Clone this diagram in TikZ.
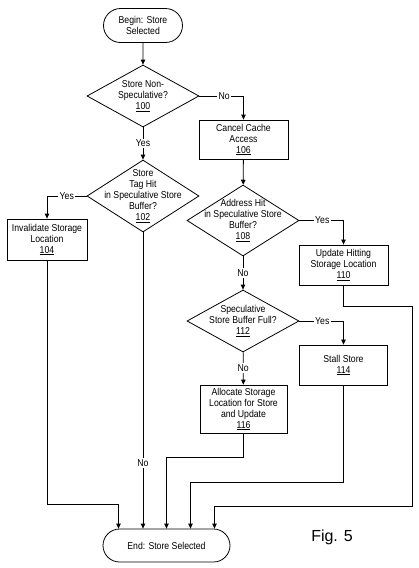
\documentclass[tikz,border=0pt]{standalone}
\usepackage{fontspec}
\setmainfont[FakeStretch=0.87]{Liberation Sans}
\newfontfamily\figfont{Liberation Sans}
\usetikzlibrary{arrows.meta,shapes.geometric,shapes.misc}

\begin{document}
\begin{tikzpicture}[x=1pt,y=-1pt,line width=0.8pt,>={Triangle[length=5pt,width=4.5pt]},
    every node/.style={font=\fontsize{10}{11}\selectfont,align=center,inner sep=1pt},
    term/.style={rounded rectangle,draw,minimum height=34pt},
    decision/.style={diamond,draw,inner sep=-24pt,minimum width=112pt},
    stepbox/.style={rectangle,draw},
    lbl/.style={fill=white,inner sep=1.5pt}]
  \useasboundingbox (0,0) rectangle (418,568);
  % flow chart nodes
  \node[term,minimum width=81pt] (start) at (143,25.5) {Begin: Store\\Selected};
  \node[decision,minimum height=62pt] (q100) at (143,96) {Store Non-\\Speculative?\\\underline{100}};
  \node[stepbox,minimum width=89pt,minimum height=39pt] (c106) at (243.5,139.5) {Cancel Cache\\Access\\\underline{106}};
  \node[decision,minimum height=72pt] (q102) at (143,196) {Store\\Tag Hit\\in Speculative Store\\Buffer?\\\underline{102}};
  \node[stepbox,minimum width=80pt,minimum height=41pt] (inv104) at (47,239.5) {Invalidate Storage\\Location\\\underline{104}};
  \node[decision,minimum height=71pt] (q108) at (243,220.5) {Address Hit\\in Speculative Store\\Buffer?\\\underline{108}};
  \node[stepbox,minimum width=89pt,minimum height=40pt] (upd110) at (343.5,265) {Update Hitting\\Storage Location\\\underline{110}};
  \node[decision,minimum height=62pt] (q112) at (243,321) {Speculative\\Store Buffer Full?\\\underline{112}};
  \node[stepbox,minimum width=88pt,minimum height=40pt] (stall114) at (343.5,365) {Stall Store\\\underline{114}};
  \node[stepbox,minimum width=87pt,minimum height=48pt] (alloc116) at (243.5,409) {Allocate Storage\\Location for Store\\and Update\\\underline{116}};
  \node[term,minimum width=129pt,minimum height=33pt] (finish) at (166.5,545.5) {End: Store Selected};
  \node[font=\figfont\fontsize{16}{18}\selectfont] (fig) at (332,537) {Fig. 5};
  % decisions
  \draw[->] (start) -- (q100);
  \draw[->] (q100.east) -| node[lbl,pos=0.28] {No} (c106);
  \draw[->] (q100) -- node[lbl] {Yes} (q102);
  \draw[->] (q102.west) -| node[lbl,pos=0.25] {Yes} (inv104);
  \draw[->] (c106) -- (q108);
  \draw[->] (q108.east) -| node[lbl,pos=0.26] {Yes} (upd110);
  \draw[->] (q108) -- node[lbl] {No} (q112);
  \draw[->] (q112.east) -| node[lbl,pos=0.26] {Yes} (stall114);
  \draw[->] (q112) -- node[lbl] {No} (alloc116);
  % paths into the end node
  \coordinate (in1) at (118.5,504);
  \coordinate (in3) at (166.5,457);
  \coordinate (in4) at (190.5,482);
  \coordinate (in5) at (214.5,506);
  \draw[->] (inv104.south) |- (in1) -- (in1 |- finish.north);
  \draw[->] (q102.south) -- node[lbl,pos=0.78] {No} (q102.south |- finish.north);
  \draw[->] (alloc116.south) |- (in3) -- (finish.north);
  \draw[->] (stall114.south) |- (in4) -- (in4 |- finish.north);
  \draw[->] (upd110.south) -- ++(0,21) -| ++(69,0) |- (in5) -- (in5 |- finish.north);
\end{tikzpicture}
\end{document}
